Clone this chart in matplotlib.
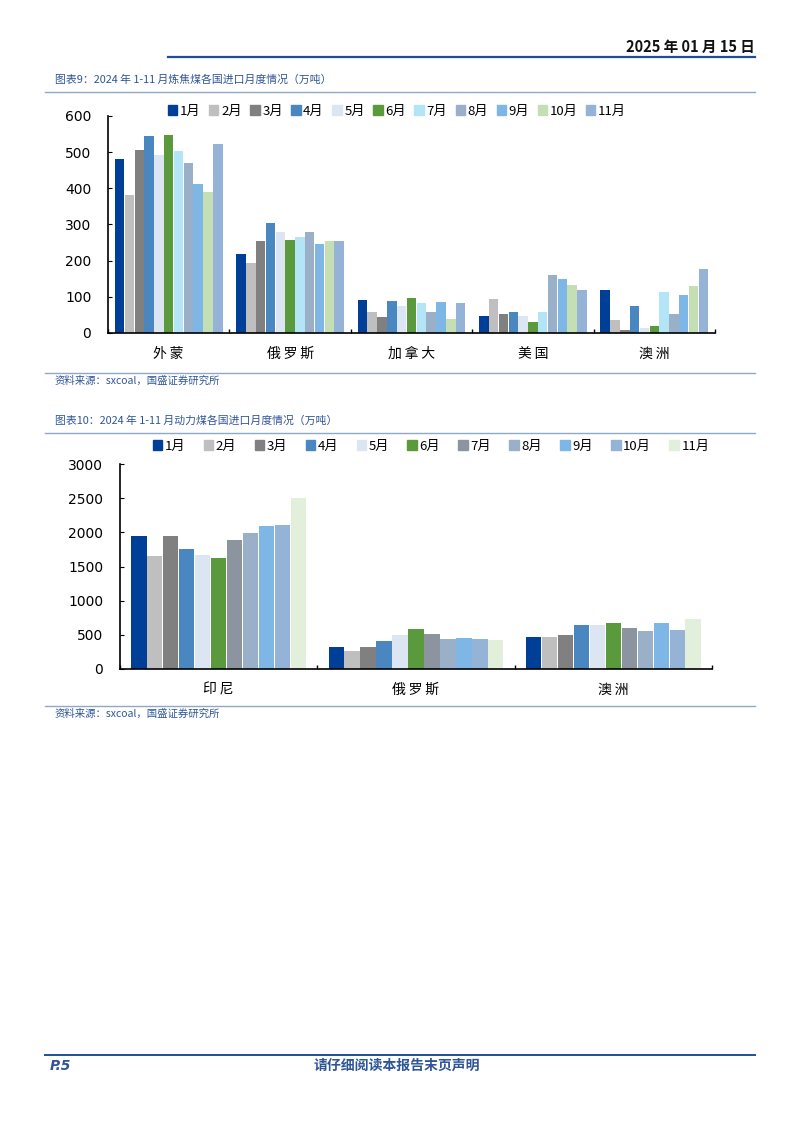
import numpy as np
import matplotlib
matplotlib.use('Agg')
import matplotlib.pyplot as plt
from matplotlib.lines import Line2D
from matplotlib.patches import Patch

plt.rcParams['font.family'] = ['Noto Sans CJK SC', 'DejaVu Sans']

months = ['1月', '2月', '3月', '4月', '5月', '6月', '7月', '8月', '9月', '10月', '11月']

# chart 9: coking coal imports (万吨), one list per country, Jan..Nov
coke_countries = ['外蒙', '俄罗斯', '加拿大', '美国', '澳洲']
coke_mongolia = [480, 382, 507, 544, 493, 547, 502, 470, 411, 390, 522]
coke_russia = [218, 193, 255, 303, 280, 258, 266, 278, 246, 255, 255]
coke_canada = [90, 57, 43, 88, 74, 96, 83, 57, 85, 40, 82]
coke_usa = [48, 94, 53, 57, 48, 31, 57, 159, 150, 133, 119]
coke_australia = [118, 37, 9, 76, 15, 20, 114, 53, 105, 130, 178]

# chart 10: thermal coal imports (万吨)
steam_countries = ['印尼', '俄罗斯', '澳洲']
steam_indonesia = [1946, 1659, 1951, 1761, 1668, 1629, 1893, 1995, 2093, 2107, 2507]
steam_russia = [327, 263, 317, 405, 493, 580, 507, 444, 459, 444, 429]
steam_australia = [473, 463, 493, 639, 649, 668, 595, 551, 668, 566, 737]

colors1 = ['#003f98', '#bfbfbf', '#808080', '#4a86c0', '#dce6f2', '#5b9a3c',
           '#b3e5f7', '#9ab0c8', '#7eb6e6', '#c5dfb4', '#95b3d7']
colors2 = ['#003f98', '#bfbfbf', '#808080', '#4a86c0', '#dce6f2', '#5b9a3c',
           '#8c959f', '#9ab0c8', '#7eb6e6', '#95b3d7', '#e2efda']

W, H = 802, 1133
fig = plt.figure(figsize=(W / 100, H / 100), dpi=100)

def px(x, y):
    return x / W, 1 - y / H

def hline(x0, x1, y, color, lw):
    fig.add_artist(Line2D([x0 / W, x1 / W], [1 - y / H, 1 - y / H],
                          color=color, lw=lw, transform=fig.transFigure))

def spaced(s):
    return '\u2009'.join(s)

def draw_chart(box, cats, rows, colors, ymax, ystep, leg_xy, leg_gap):
    l, t, r, b = box
    ax = fig.add_axes([l / W, 1 - b / H, (r - l) / W, (b - t) / H])
    data = np.array(rows).T  # months x countries
    n = len(months)
    x = np.arange(len(cats))
    bw = 0.89 / n
    for i in range(n):
        ax.bar(x - 0.445 + bw * (i + 0.5), data[i], width=bw * 0.96,
               color=colors[i], label=months[i])
    ax.set_xlim(-0.5, len(cats) - 0.5)
    ax.set_ylim(0, ymax)
    ax.set_yticks(np.arange(0, ymax + 1, ystep))
    ax.set_xticks(np.arange(len(cats) + 1) - 0.5, minor=True)
    ax.set_xticks(x)
    ax.set_xticklabels([spaced(c) for c in cats], fontsize=10)
    ax.tick_params(axis='x', which='major', length=0, pad=10)
    ax.tick_params(axis='x', which='minor', direction='in', length=3, width=1)
    ax.tick_params(axis='y', direction='in', length=3, labelsize=10,
                   pad=12)
    for lab in ax.get_yticklabels():
        lab.set_family('DejaVu Sans')
    ax.spines['top'].set_visible(False)
    ax.spines['right'].set_visible(False)
    for s in ('left', 'bottom'):
        ax.spines[s].set_linewidth(1.2)
    ax.set_facecolor('none')
    handles = [Patch(color=c) for c in colors]
    fig.legend(handles, months, loc='center', bbox_to_anchor=px(*leg_xy),
               ncol=n, frameon=False, fontsize=9.5, handlelength=0.7,
               handleheight=0.7, handletextpad=0.2, columnspacing=leg_gap,
               borderaxespad=0)
    return ax

title_c = '#2f5597'

# header
fig.text(*px(755, 47), '2025 年 01 月 15 日', ha='right', va='center',
         fontsize=10.5, fontweight='bold', color='#111111')
hline(168, 755, 57, '#1f4e99', 1.6)

# chart 9
fig.text(*px(55, 80), '图表9：2024 年 1-11 月炼焦煤各国进口月度情况（万吨）',
         ha='left', va='center', fontsize=7.8, color=title_c)
hline(45, 755, 92, '#8ea9c8', 1.0)
draw_chart((108, 116, 715, 333), coke_countries,
           [coke_mongolia, coke_russia, coke_canada, coke_usa, coke_australia],
           colors1, 600, 100, (397, 111), 0.65)
hline(45, 755, 373, '#8ea9c8', 1.0)
fig.text(*px(55, 381), '资料来源：sxcoal，国盛证券研究所', ha='left', va='center',
         fontsize=7.5, color=title_c)

# chart 10
fig.text(*px(55, 421), '图表10：2024 年 1-11 月动力煤各国进口月度情况（万吨）',
         ha='left', va='center', fontsize=7.8, color=title_c)
hline(45, 755, 433, '#8ea9c8', 1.0)
draw_chart((120, 464, 712, 669), steam_countries,
           [steam_indonesia, steam_russia, steam_australia],
           colors2, 3000, 500, (431, 446), 1.4)
hline(45, 755, 706, '#8ea9c8', 1.0)
fig.text(*px(55, 714), '资料来源：sxcoal，国盛证券研究所', ha='left', va='center',
         fontsize=7.5, color=title_c)

# footer
hline(45, 755, 1055, '#1f4e99', 1.4)
fig.text(*px(50, 1066), 'P.5', ha='left', va='center', fontsize=10,
         fontweight='bold', fontstyle='italic', color=title_c,
         family='DejaVu Sans')
fig.text(*px(397, 1066), '请仔细阅读本报告末页声明', ha='center', va='center',
         fontsize=10, fontweight='bold', color=title_c)

fig.savefig('out.png', dpi=100)
